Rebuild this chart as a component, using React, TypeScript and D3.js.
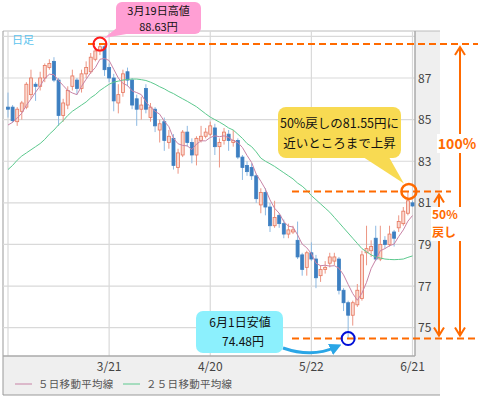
import React from 'react';
import * as d3 from 'd3';

// AUD/JPY daily candles, 2/20 .. 6/21 (weekday index 0..88)
const opens = [85.6, 85.6, 84.9, 85.4, 85.6, 86.2, 86.7, 86.6, 87.0, 87.5, 87.8, 86.9, 85.2, 85.7, 86.6, 86.9, 86.5, 87.2, 87.3, 87.9,
  88.3, 88.5, 87.5, 87.0, 85.8, 86.3, 87.3, 86.9, 86.0, 85.5, 86.5, 85.1, 85.5, 84.5, 84.9, 83.9, 84.1, 82.7, 83.3, 84.4,
  83.9, 83.3, 84.0, 84.2, 84.3, 84.6, 83.7, 84.0, 84.3, 83.9, 84.0, 83.2, 82.8, 82.7, 82.3, 80.9, 81.5, 80.8, 79.9, 80.4,
  80.0, 79.5, 79.6, 79.2, 78.5, 77.9, 78.6, 78.3, 77.5, 77.8, 78.1, 78.2, 78.3, 76.8, 76.2, 75.6, 76.1, 76.4, 78.6, 78.7,
  79.3, 78.3, 79.2, 79.0, 79.6, 79.8, 80.0, 80.5, 81.0];
const highs = [86.3, 85.7, 85.6, 85.9, 86.8, 87.4, 86.8, 87.3, 87.7, 87.9, 88.0, 87.0, 86.0, 86.6, 87.4, 87.0, 87.4, 87.8, 88.2, 88.5,
  88.63, 88.6, 87.7, 87.2, 86.7, 87.4, 87.5, 87.0, 86.2, 86.1, 86.7, 85.8, 85.6, 85.0, 85.1, 84.5, 84.3, 83.6, 84.5, 84.7,
  84.1, 84.2, 84.7, 84.6, 84.9, 84.8, 84.1, 84.6, 84.5, 84.5, 84.1, 83.3, 83.0, 82.9, 82.4, 81.7, 81.7, 81.0, 81.1, 80.5,
  80.2, 80.0, 79.9, 80.1, 78.6, 78.7, 79.1, 78.5, 78.0, 78.2, 78.6, 78.6, 78.4, 76.9, 76.3, 76.3, 77.1, 78.7, 79.9, 79.2,
  79.9, 79.9, 79.4, 79.9, 79.7, 80.4, 80.8, 81.55, 81.1];
const lows = [85.1, 84.85, 84.7, 85.0, 85.5, 86.0, 85.9, 86.4, 86.8, 87.4, 86.8, 84.7, 84.9, 85.5, 86.4, 86.2, 86.3, 87.0, 87.2, 87.8,
  88.1, 87.1, 86.8, 85.4, 85.3, 86.1, 86.6, 85.5, 84.7, 85.0, 85.3, 84.9, 84.4, 83.9, 83.5, 83.6, 82.6, 82.4, 83.2, 83.7,
  82.9, 82.8, 83.9, 84.1, 84.2, 83.3, 82.7, 83.8, 83.5, 83.7, 83.1, 82.1, 82.3, 82.1, 81.0, 80.5, 80.4, 79.6, 79.8, 79.8,
  79.3, 79.3, 79.5, 78.3, 77.5, 77.5, 78.2, 76.9, 77.2, 77.6, 77.9, 78.0, 76.6, 75.8, 74.48, 75.1, 76.0, 76.3, 78.0, 78.4,
  78.2, 78.2, 78.8, 78.9, 78.9, 79.6, 79.9, 80.4, 80.8];
const closes = [85.5, 84.95, 85.5, 85.8, 86.7, 87.0, 86.6, 87.0, 87.6, 87.7, 86.9, 85.2, 85.8, 86.4, 87.1, 86.5, 87.2, 87.5, 88.0, 88.3,
  88.5, 87.4, 87.0, 85.9, 86.2, 87.2, 86.9, 85.7, 85.5, 85.7, 85.5, 85.6, 84.7, 84.8, 84.0, 84.2, 82.8, 83.4, 84.4, 83.9,
  83.3, 84.1, 84.2, 84.4, 84.7, 83.7, 83.9, 84.4, 84.0, 84.0, 83.2, 82.7, 82.5, 82.3, 81.2, 81.5, 80.8, 79.9, 80.3, 80.0,
  79.5, 79.7, 79.7, 78.4, 77.8, 78.6, 78.3, 77.4, 77.8, 77.9, 78.4, 78.4, 76.8, 76.2, 75.6, 76.2, 76.8, 78.5, 78.8, 78.9,
  78.3, 79.0, 79.0, 79.5, 79.3, 80.1, 80.6, 81.1, 80.85];
// closes of the 4 days before 2/20 (for the 5-day average)
const priorCloses = [84.3, 84.5, 84.6, 84.8];
// 25-day moving average as drawn
const ma25 = [82.6, 82.8, 83.05, 83.25, 83.4, 83.55, 83.7, 83.85, 84.05, 84.3, 84.5, 84.75, 84.95, 85.2, 85.4, 85.55, 85.7, 85.85, 86.05, 86.2,
  86.4, 86.55, 86.7, 86.8, 86.85, 86.9, 86.93, 86.95, 86.95, 86.92, 86.88, 86.8, 86.7, 86.58, 86.48, 86.35, 86.25, 86.12, 86.0, 85.88,
  85.75, 85.62, 85.45, 85.28, 85.12, 85.0, 84.88, 84.75, 84.6, 84.5, 84.3, 84.1, 83.85, 83.7, 83.45, 83.15, 83.0, 82.88, 82.75, 82.6,
  82.45, 82.3, 82.15, 81.95, 81.8, 81.6, 81.35, 81.15, 80.95, 80.75, 80.55, 80.3, 80.05, 79.8, 79.55, 79.3, 79.05, 78.8, 78.65, 78.5,
  78.4, 78.35, 78.3, 78.28, 78.27, 78.28, 78.3, 78.38, 78.45];

const gridIdx = [0, 22, 44, 66, 88];
const gridLabels = ['', '3/21', '4/20', '5/22', '6/21'];
const yTicks = [75, 77, 79, 81, 83, 85, 87];
const yGrid = [75, 77, 79, 81, 83, 85, 87, 89];

const highValue = 88.63;
const lowValue = 74.48;
const halfValue = 81.55;
const highIdx = 20;
const lowIdx = 74;
const halfIdx = 87;

const FONT = "'Noto Sans CJK JP', 'Noto Sans', sans-serif";
const ORANGE = '#ff6a00';

export default function App() {
  const x = d3.scaleLinear().domain([0, 88]).range([8, 412.5]);
  const y = d3.scaleLinear().domain([75, 87]).range([327.7, 78]);

  const all = [...priorCloses, ...closes];
  const ma5 = closes.map((_, i) => d3.mean(all.slice(i, i + 5)) as number);

  const line = d3.line<number>().x((_, i) => x(i)).y(d => y(d));

  const plot = { l: 3, r: 415, t: 31, b: 356 };
  const yHi = y(highValue), yLo = y(lowValue), yHalf = y(halfValue);

  const arrowHead = (ax: number, ay: number, dir: number) =>
    `M${ax - 5},${ay + dir * 8} L${ax},${ay} L${ax + 5},${ay + dir * 8}`;

  return (
    <svg width={478} height={397} style={{ position: 'absolute', left: 0, top: 0, background: '#fff' }} fontFamily={FONT}>
      <defs>
        <clipPath id="plotClip">
          <rect x={plot.l} y={plot.t} width={plot.r - plot.l} height={plot.b - plot.t} />
        </clipPath>
        <marker id="blueHead" viewBox="0 0 10 10" refX="5" refY="5" markerWidth="4" markerHeight="4" orient="auto">
          <path d="M0,0 L10,5 L0,10 z" fill="#2aa6e6" />
        </marker>
      </defs>

      {/* frame bands */}
      <rect x={plot.r} y={plot.t} width={440 - plot.r} height={plot.b - plot.t} fill="#efefef" />
      <rect x={plot.l} y={plot.b} width={440 - plot.l} height={395 - plot.b} fill="#efefef" />
      <line x1={plot.l} x2={440} y1={plot.t} y2={plot.t} stroke="#bcbcbc" />
      <line x1={plot.l} x2={plot.l} y1={plot.t} y2={395} stroke="#999" />
      <line x1={plot.l} x2={440} y1={395} y2={395} stroke="#999" />

      {/* grid */}
      <g clipPath="url(#plotClip)">
        {yGrid.map(v => (
          <line key={v} x1={plot.l} x2={plot.r} y1={y(v)} y2={y(v)} stroke="#d9d9d9" strokeWidth={1.2} />
        ))}
        {gridIdx.map(i => (
          <line key={i} x1={x(i)} x2={x(i)} y1={plot.t} y2={plot.b} stroke="#d9d9d9" strokeWidth={1.2} />
        ))}
      </g>
      <line x1={plot.r} x2={plot.r} y1={plot.t} y2={plot.b} stroke="#aaa" strokeWidth={1.5} />
      <line x1={plot.l} x2={plot.r} y1={plot.b} y2={plot.b} stroke="#aaa" strokeWidth={1.5} />

      <text x={12} y={44} fontSize={11} fill="#5cc3ee">日足</text>

      {/* candles */}
      <g clipPath="url(#plotClip)">
        {closes.map((c, i) => {
          const o = opens[i];
          const up = c >= o;
          const cx = x(i);
          const top = y(Math.max(o, c));
          const bot = y(Math.min(o, c));
          return (
            <g key={i}>
              <line x1={cx} x2={cx} y1={y(highs[i])} y2={y(lows[i])} stroke={up ? '#ec9684' : '#8db9e2'} strokeWidth={1} />
              <rect x={cx - 1.5} y={top} width={3} height={Math.max(1, bot - top)}
                fill={up ? '#fbd9d0' : '#3d7fc1'} stroke={up ? '#e6775f' : '#3d7fc1'} strokeWidth={0.8} />
            </g>
          );
        })}
        <path d={line(ma25) ?? ''} fill="none" stroke="#5cc98e" strokeWidth={1} />
        <path d={line(ma5) ?? ''} fill="none" stroke="#c883a6" strokeWidth={1} />
      </g>

      {/* axis labels */}
      {yTicks.map(v => (
        <text key={v} x={418} y={y(v) + 4.5} fontSize={12} fill="#444">{v}</text>
      ))}
      {gridIdx.map((i, k) => gridLabels[k] ? (
        <text key={i} x={x(i)} y={371} fontSize={12} fill="#444" textAnchor="middle">{gridLabels[k]}</text>
      ) : null)}

      {/* legend */}
      <line x1={15} x2={32} y1={384} y2={384} stroke="#c883a6" />
      <text x={38} y={388} fontSize={10.5} fill="#555" letterSpacing={0.3}>５日移動平均線</text>
      <line x1={123} x2={140} y1={384} y2={384} stroke="#5cc98e" />
      <text x={146} y={388} fontSize={10.5} fill="#555" letterSpacing={0.3}>２５日移動平均線</text>

      {/* orange guide lines */}
      <line x1={88} x2={478} y1={yHi} y2={yHi} stroke={ORANGE} strokeWidth={2} strokeDasharray="7,4" />
      <line x1={292} x2={451} y1={yHalf} y2={yHalf} stroke={ORANGE} strokeWidth={2} strokeDasharray="7,4" />
      <line x1={292} x2={478} y1={yLo} y2={yLo} stroke={ORANGE} strokeWidth={2} strokeDasharray="7,4" />

      {/* 100% arrow */}
      <line x1={460} x2={460} y1={yHi + 3} y2={yLo - 3} stroke={ORANGE} strokeWidth={2} />
      <path d={arrowHead(460, yHi + 3, 1)} fill="none" stroke={ORANGE} strokeWidth={2} />
      <path d={arrowHead(460, yLo - 3, -1)} fill="none" stroke={ORANGE} strokeWidth={2} />
      <rect x={437} y={134} width={41} height={19} fill="#fff" />
      <text x={457} y={149} fontSize={14} fontWeight="bold" fill={ORANGE} textAnchor="middle">100%</text>

      {/* 50% arrow */}
      <line x1={439} x2={439} y1={yHalf + 3} y2={yLo - 3} stroke={ORANGE} strokeWidth={2} />
      <path d={arrowHead(439, yHalf + 3, 1)} fill="none" stroke={ORANGE} strokeWidth={2} />
      <path d={arrowHead(439, yLo - 3, -1)} fill="none" stroke={ORANGE} strokeWidth={2} />
      <rect x={431} y={207} width={30} height={34} fill="#fff" />
      <text x={432} y={219} fontSize={12} fontWeight="bold" fill={ORANGE}>50%</text>
      <text x={432} y={237} fontSize={12} fontWeight="bold" fill={ORANGE}>戻し</text>

      {/* markers */}
      <circle cx={x(highIdx)} cy={yHi} r={6.5} fill="none" stroke="#ff1a1a" strokeWidth={2} />
      <circle cx={x(halfIdx) + 1} cy={yHalf} r={7.5} fill="none" stroke={ORANGE} strokeWidth={2.5} />
      <circle cx={x(lowIdx)} cy={yLo} r={6.5} fill="none" stroke="#0010d8" strokeWidth={2} />

      {/* pink callout */}
      <path d="M118,27 L104,38 L132,33 Z" fill="#ff9fd4" />
      <rect x={116} y={2} width={85} height={32} rx={6} fill="#ff9fd4" />
      <text x={158.5} y={15} fontSize={11} fill="#111" textAnchor="middle">3月19日高値</text>
      <text x={158.5} y={30.5} fontSize={11} fill="#111" textAnchor="middle">88.63円</text>

      {/* yellow callout */}
      <path d={`M360,155 L${x(halfIdx) - 4},${yHalf - 8} L385,150 Z`} fill="#f8da52" />
      <rect x={278} y={107} width={123} height={51} rx={8} fill="#f8da52" />
      <text x={339.5} y={128} fontSize={12.5} fill="#111" textAnchor="middle">50%戻しの81.55円に</text>
      <text x={339.5} y={148} fontSize={12.5} fill="#111" textAnchor="middle">近いところまで上昇</text>

      {/* cyan callout */}
      <rect x={196} y={311} width={87} height={42} rx={7} fill="#8cf0fd" />
      <text x={240} y={327} fontSize={12} fill="#111" textAnchor="middle">6月1日安値</text>
      <text x={243} y={346} fontSize={12} fill="#111" textAnchor="middle">74.48円</text>
      <path d="M283,348 Q312,358 336,347" fill="none" stroke="#2aa6e6" strokeWidth={3} markerEnd="url(#blueHead)" />
    </svg>
  );
}
